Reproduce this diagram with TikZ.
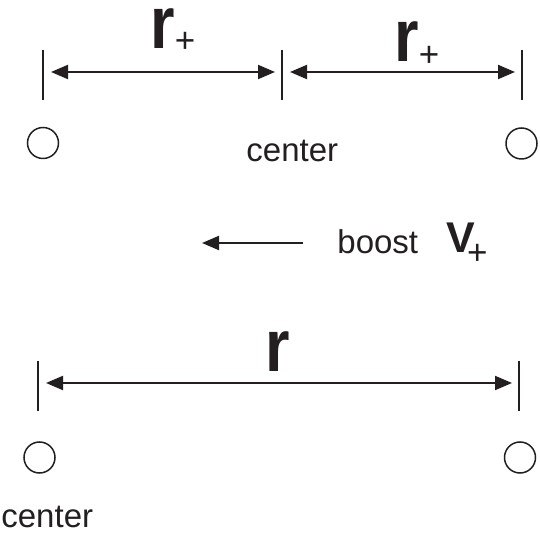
\documentclass[tikz,border=0pt]{standalone}
\usepackage{graphicx}
\usepackage{fontspec}
\setmainfont{Liberation Sans}
\usetikzlibrary{arrows.meta}
\definecolor{ink}{RGB}{35,31,32}
\newcommand\BigR{\scalebox{0.85}[1]{\fontsize{37}{37}\selectfont\bfseries r}}
\newcommand\SubPlus[1]{\raisebox{#1}{\fontsize{17.5}{17.5}\selectfont +}}
\newcommand\TickAt[3]{%
    \coordinate (#1) at (#2,#3);
    \draw[tickline] (#1) ++(0,-22) -- ++(0,50);
}

\begin{document}
\begin{tikzpicture}[x=0.5pt,y=-0.5pt,color=ink,
    tickline/.style={line width=1pt},
    span/.style={line width=1pt,{Triangle[length=8.5pt,width=7pt]}-{Triangle[length=8.5pt,width=7pt]},shorten <=4pt,shorten >=3.5pt},
    ball/.style={circle,draw,line width=0.75pt,minimum size=15.5pt,inner sep=0pt},
    label/.style={anchor=base west,inner sep=0pt,font=\fontsize{16.5}{16.5}\selectfont}]
    \useasboundingbox (0,0) rectangle (540,533);
    % before boost
    \TickAt{TopL}{43}{72}
    \TickAt{TopC}{282}{72}
    \TickAt{TopR}{522}{72}
    \draw[span] (TopL) -- (TopC);
    \draw[span] (TopC) -- (TopR);
    \node[anchor=base west,inner sep=0pt] (rPlusA) at (150,49) {\BigR\SubPlus{-2pt}};
    \node[anchor=base west,inner sep=0pt] (rPlusB) at (394,62) {\BigR\SubPlus{-2.5pt}};
    \node[ball] (ballTL) at (43,143) {};
    \node[ball] (ballTR) at (521.5,143.5) {};
    \node[label] (centerTop) at (246,162) {center};
    % boost
    \coordinate (BoostTail) at (303,243);
    \coordinate (BoostTip) at (202,243);
    \draw[line width=1pt,-{Triangle[length=8.5pt,width=7pt]}] (BoostTail) -- (BoostTip);
    \node[label] (boost) at (337,254) {boost};
    \node[anchor=base west,inner sep=0pt] (vPlus) at (446,253)
        {{\fontsize{21.5}{21.5}\selectfont\bfseries V}\kern-4pt\SubPlus{-6pt}};
    % after boost
    \TickAt{BotL}{38}{383}
    \TickAt{BotR}{519}{383}
    \draw[span] (BotL) -- (BotR);
    \node[anchor=base west,inner sep=0pt] (rBot) at (265,372) {\BigR};
    \node[ball] (ballBL) at (39.5,457.5) {};
    \node[ball] (ballBR) at (520,457.5) {};
    \node[label] (centerBot) at (1,527) {center};
\end{tikzpicture}
\end{document}
